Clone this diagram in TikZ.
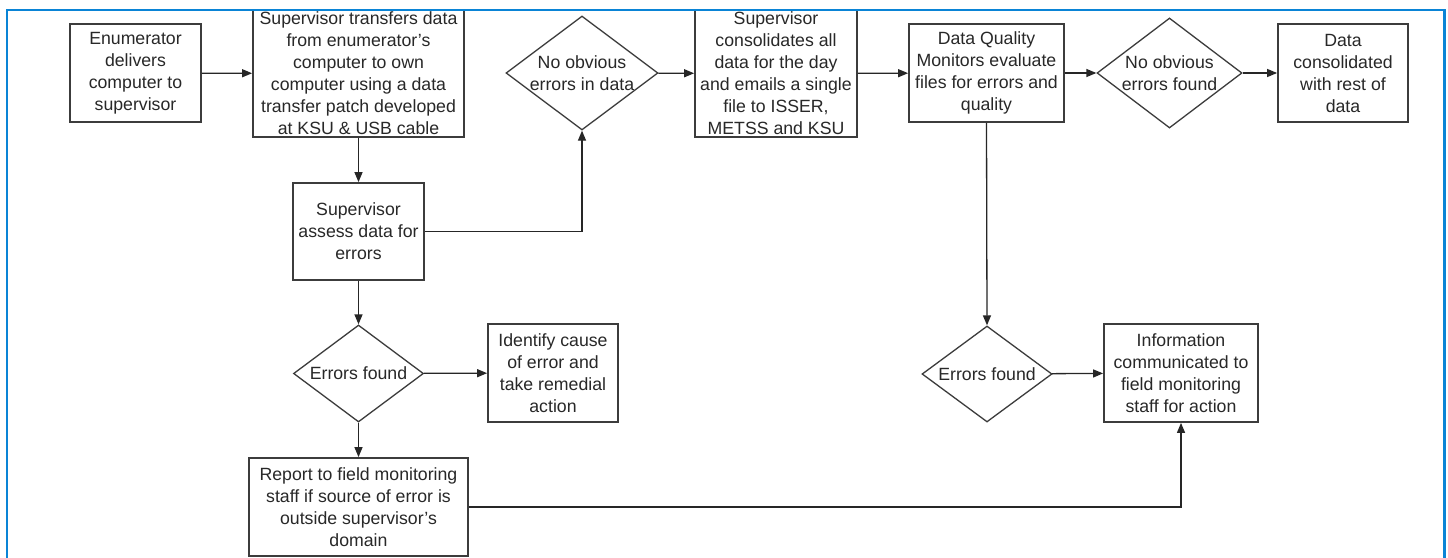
\documentclass[tikz,border=0pt]{standalone}
\usepackage{fontspec}
\setmainfont{Liberation Sans}
\usetikzlibrary{shapes.geometric,arrows.meta}
\definecolor{framblue}{RGB}{10,132,214}
\definecolor{boxline}{RGB}{60,60,60}
\definecolor{txt}{RGB}{40,40,40}
\begin{document}
\begin{tikzpicture}[x=1pt,y=-1pt,
  every node/.style={font=\fontsize{17.7}{22}\selectfont, text=txt},
  pbox/.style={draw=boxline, line width=1.8pt, rectangle, align=center, inner sep=0pt},
  dbox/.style={draw=boxline, line width=1.3pt, diamond, align=center, inner sep=-12pt},
  conn/.style={line width=1.3pt, draw=black!85, -{Triangle[length=10pt,width=8pt]}},
]
\useasboundingbox (0,0) rectangle (1448,557);
\begin{scope}
\clip (0,0) rectangle (1448,557);
\fill[white] (0,0) rectangle (1448,557);
% top row
\node[pbox, minimum width=131pt, minimum height=98pt] (b1) at (135.5,73) {Enumerator\\delivers\\computer to\\supervisor};
\node[pbox, minimum width=211pt, minimum height=127pt] (b2) at (358.5,73.5) {Supervisor transfers data\\from enumerator’s\\computer to own\\computer using a data\\transfer patch developed\\at KSU \& USB cable};
\node[pbox, minimum width=131pt, minimum height=97pt] (b3) at (358.5,231.5) {Supervisor\\assess data for\\errors};
\node[dbox, minimum width=152pt, minimum height=114pt] (d1) at (582,73) {No obvious\\errors in data};
\node[pbox, minimum width=162pt, minimum height=127pt] (b4) at (776,73.5) {Supervisor\\consolidates all\\data for the day\\and emails a single\\file to ISSER,\\METSS and KSU};
\node[pbox, minimum width=155pt, minimum height=98pt] (b5) at (986.5,73) {Data Quality\\Monitors evaluate\\files for errors and\\quality};
\node[dbox, minimum width=145pt, minimum height=110pt] (d2) at (1169.5,73) {No obvious\\errors found};
\node[pbox, minimum width=130pt, minimum height=98pt] (b6) at (1343,73) {Data\\consolidated\\with rest of\\data};
% lower part
\node[dbox, minimum width=130pt, minimum height=97pt] (d3) at (358.5,373.5) {Errors found};
\node[pbox, minimum width=130pt, minimum height=98pt] (b7) at (553,373) {Identify cause\\of error and\\take remedial\\action};
\node[pbox, minimum width=219pt, minimum height=98pt] (b8) at (358.5,507) {Report to field monitoring\\staff if source of error is\\outside supervisor’s\\domain};
\node[dbox, minimum width=130pt, minimum height=96pt] (d4) at (987,374) {Errors found};
\node[pbox, minimum width=154pt, minimum height=98pt] (b9) at (1181,373) {Information\\communicated to\\field monitoring\\staff for action};
% connectors
\draw[conn] (b1) -- (b2);
\draw[conn] (b2) -- (b3);
\draw[conn] (b3.east) -| (d1.south);
\draw[conn] (d1) -- (b4);
\draw[conn] (b4) -- (b5);
\draw[conn] (b5) -- (d2);
\draw[conn] (d2) -- (b6);
\draw[conn] (b5.south) -- (d4.north);
\draw[conn] (b3) -- (d3);
\draw[conn] (d3) -- (b7);
\draw[conn] (d3) -- (b8);
\draw[conn] (d4) -- (b9);
\draw[conn] (b8.east) -| (b9.south);
% frame
\draw[framblue, line width=2.6pt] (7,10) rectangle (1444.5,620);
\end{scope}
\end{tikzpicture}
\end{document}
